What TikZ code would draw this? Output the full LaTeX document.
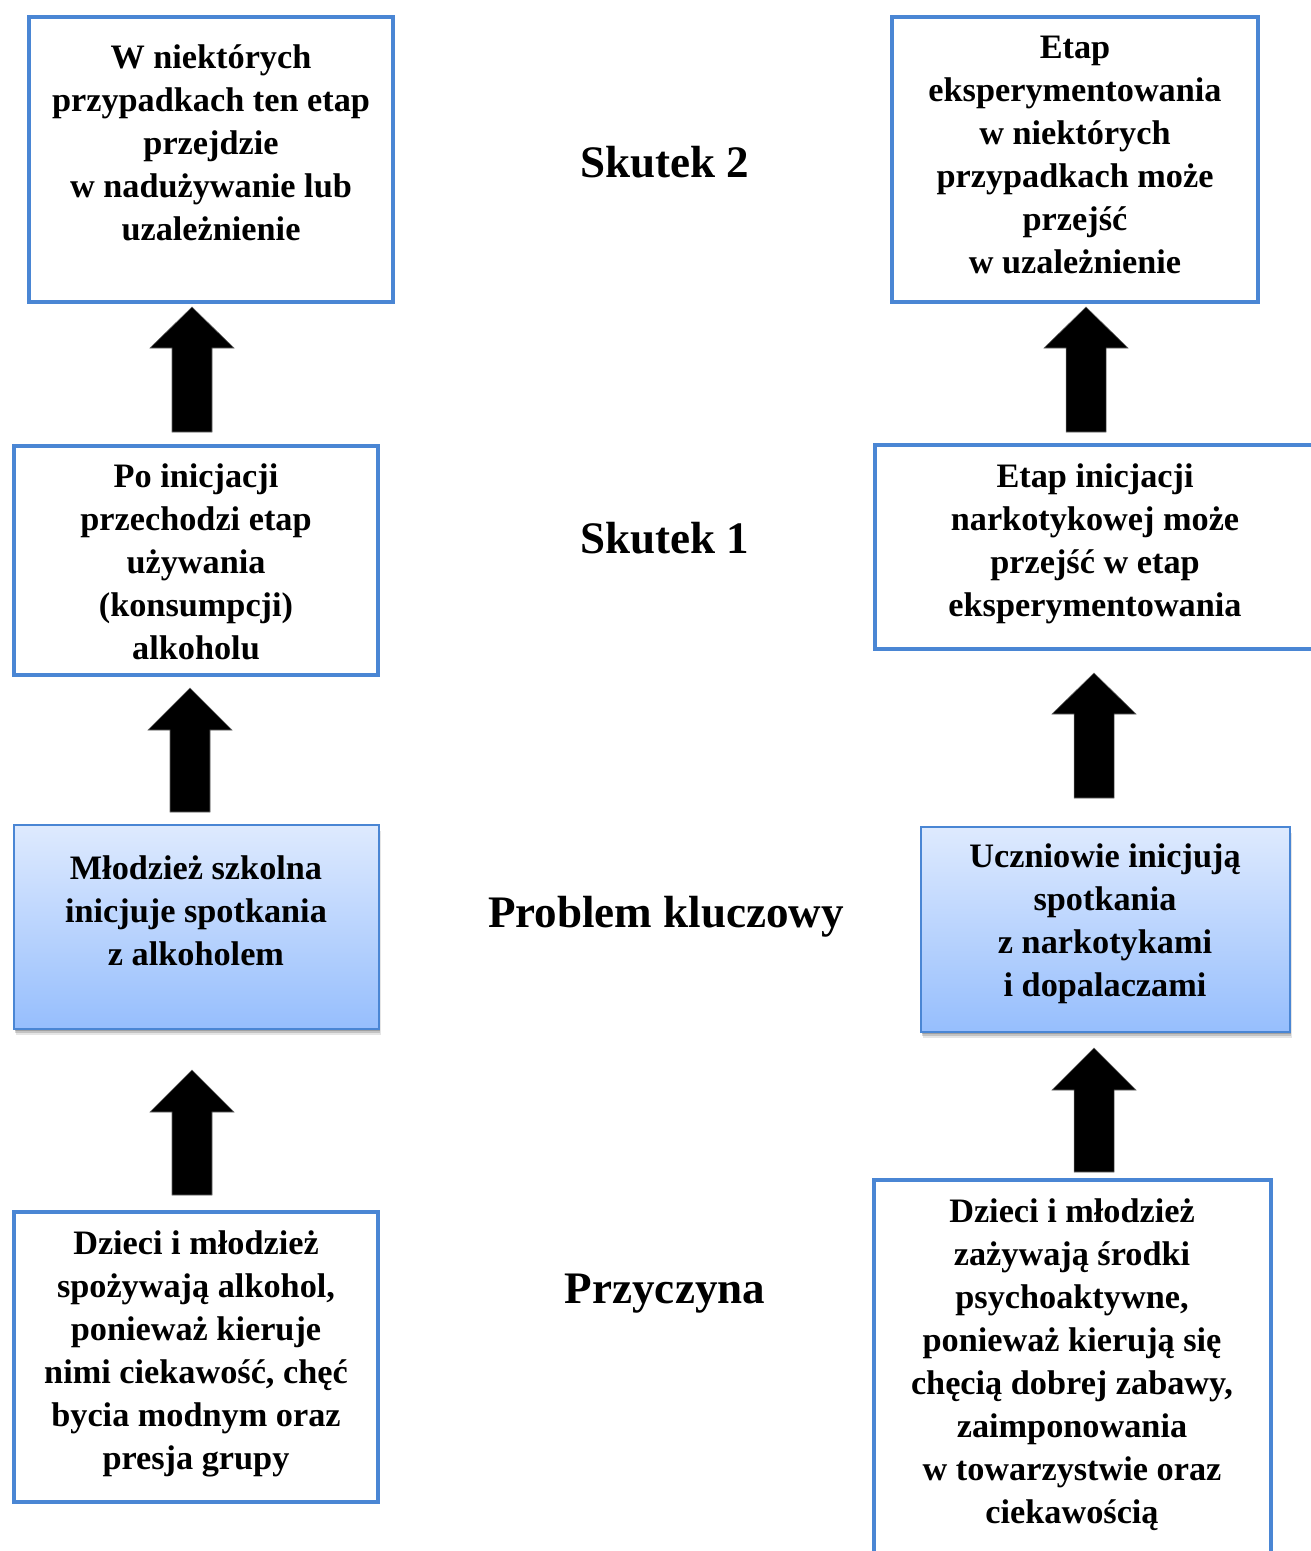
\documentclass[tikz,border=0pt]{standalone}
\usepackage{fontspec}
\setmainfont{Liberation Serif}
\usetikzlibrary{shadows}
\definecolor{bbord}{RGB}{74,134,212}
\definecolor{gtop}{RGB}{222,234,254}
\definecolor{gbot}{RGB}{150,190,253}
\newcommand{\blockarrow}[5]{%
  \coordinate (#1) at (#2,#3);
  \fill[black, draw=black!60, line width=0.4pt] (#2-20,#5) -- (#2-20,#4) -- (#2-42,#4) -- (#1) -- (#2+42,#4) -- (#2+20,#4) -- (#2+20,#5) -- cycle;}
\begin{document}
\begin{tikzpicture}[x=0.75pt,y=-0.75pt]
\useasboundingbox (0,0) rectangle (1310,1551);
\tikzset{
  plainbox/.style={draw=bbord, line width=3pt, fill=white, inner sep=0, rectangle},
  gradbox/.style={draw=bbord, line width=1.5pt, top color=gtop, bottom color=gbot, inner sep=0, rectangle,
     drop shadow={shadow xshift=0.5pt, shadow yshift=-1.5pt, opacity=0.18, fill=black},
     drop shadow={shadow xshift=1pt, shadow yshift=-3pt, opacity=0.15, fill=black},
     drop shadow={shadow xshift=1.5pt, shadow yshift=-4.5pt, opacity=0.1, fill=black}},
  boxtext/.style={align=center, inner sep=0, font=\fontsize{25.7}{32.25}\selectfont\bfseries},
  lbl/.style={inner sep=0, anchor=base, font=\fontsize{33.8}{40}\selectfont\bfseries},
}
% boxes
\node[plainbox, minimum width=273pt, minimum height=213.75pt] (b1) at (211,159.5) {};
\node[plainbox, minimum width=273pt, minimum height=171.75pt] (b2) at (196,560.5) {};
\node[gradbox, minimum width=273.75pt, minimum height=153pt] (b3) at (196.5,927) {};
\node[plainbox, minimum width=273pt, minimum height=217.5pt] (b4) at (196,1357) {};
\node[plainbox, minimum width=274.5pt, minimum height=213.75pt] (b5) at (1075,159.5) {};
\node[plainbox, minimum width=341.25pt, minimum height=153pt] (b6) at (1102.5,547) {};
\node[gradbox, minimum width=276.75pt, minimum height=153.75pt] (b7) at (1105.5,929.5) {};
\node[plainbox, minimum width=297.75pt, minimum height=315pt] (b8) at (1072.5,1390) {};
% texts
\node[boxtext] (t1) at (211,143) {W niektórych\\przypadkach ten etap\\przejdzie\\w nadużywanie lub\\uzależnienie};
\node[boxtext] (t2) at (196,561.5) {Po inicjacji\\przechodzi etap\\używania\\(konsumpcji)\\alkoholu};
\node[boxtext] (t3) at (196,910.5) {Młodzież szkolna\\inicjuje spotkania\\z alkoholem};
\node[boxtext] (t4) at (196,1353.5) {Dzieci i młodzież\\spożywają alkohol,\\ponieważ kieruje\\nimi ciekawość, chęć\\bycia modnym oraz\\presja grupy};
\node[boxtext] (t5) at (1075,154.5) {Etap\\eksperymentowania\\w niektórych\\przypadkach może\\przejść\\w uzależnienie};
\node[boxtext] (t6) at (1095,543.5) {Etap inicjacji\\narkotykowej może\\przejść w etap\\eksperymentowania};
\node[boxtext] (t7) at (1105,923.5) {Uczniowie inicjują\\spotkania\\z narkotykami\\i dopalaczami};
\node[boxtext] (t8) at (1072,1364.5) {Dzieci i młodzież\\zażywają środki\\psychoaktywne,\\ponieważ kierują się\\chęcią dobrej zabawy,\\zaimponowania\\w towarzystwie oraz\\ciekawością};
% labels
\node[lbl] (l1) at (665,178) {Skutek 2};
\node[lbl] (l2) at (665,553) {Skutek 1};
\node[lbl] (l3) at (666,927) {Problem kluczowy};
\node[lbl] (l4) at (665,1303) {Przyczyna};
% arrows
\blockarrow{a1}{192}{307}{348}{432}
\blockarrow{a2}{190}{688}{730}{812}
\blockarrow{a3}{192}{1070}{1112}{1195}
\blockarrow{a4}{1086}{307}{348}{432}
\blockarrow{a5}{1094}{673}{714}{798}
\blockarrow{a6}{1094}{1048}{1090}{1172}
\end{tikzpicture}
\end{document}
